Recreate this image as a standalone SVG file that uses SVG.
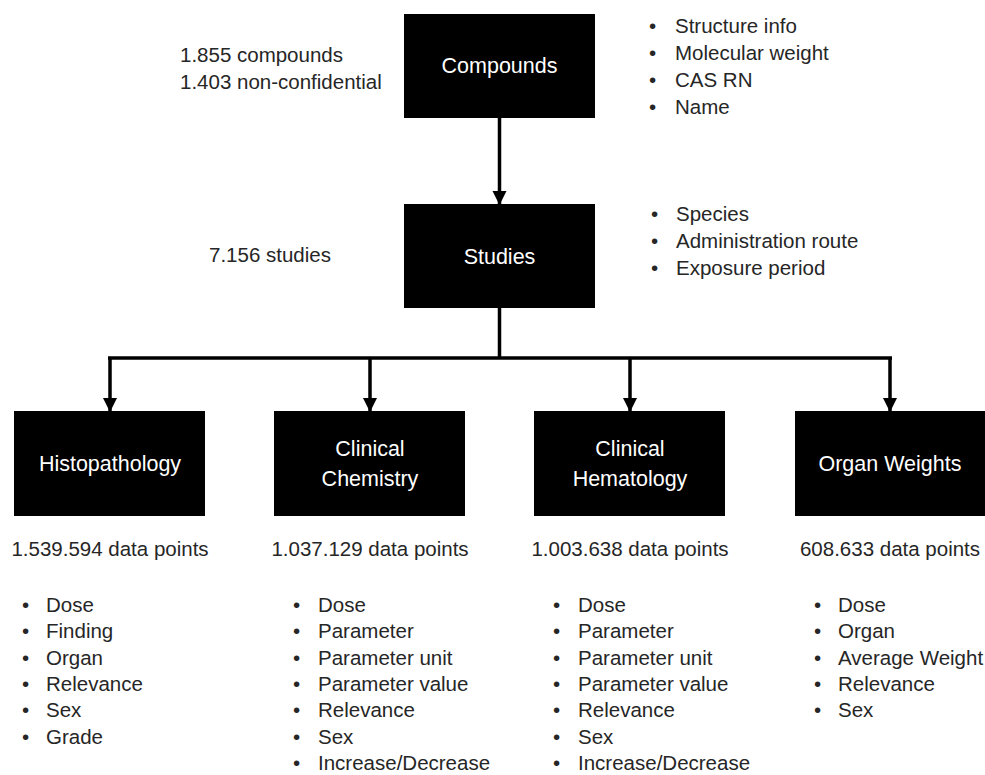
<svg xmlns="http://www.w3.org/2000/svg" width="985" height="775" viewBox="0 0 985 775">
<style>
text{font-family:"Liberation Sans",Arial,sans-serif;font-size:20.5px;fill:#262626}
.box{fill:#000}
.bt{fill:#fff;font-size:21.5px;text-anchor:middle}
.c{text-anchor:middle}
.ln{stroke:#000;stroke-width:3.5;fill:none}
</style>
<defs>
<marker id="ah" markerUnits="userSpaceOnUse" markerWidth="14" markerHeight="16" refX="13" refY="7" orient="auto">
<path d="M0,0 L14,7 L0,14 Z" fill="#000"/>
</marker>
</defs>
<g id="connectors">
<line class="ln" x1="499.5" y1="118" x2="499.5" y2="204" marker-end="url(#ah)"/>
<line class="ln" x1="499.5" y1="308" x2="499.5" y2="358"/>
<line class="ln" x1="108" y1="358" x2="892" y2="358"/>
<line class="ln" x1="110" y1="358" x2="110" y2="411" marker-end="url(#ah)"/>
<line class="ln" x1="370" y1="358" x2="370" y2="411" marker-end="url(#ah)"/>
<line class="ln" x1="630" y1="358" x2="630" y2="411" marker-end="url(#ah)"/>
<line class="ln" x1="890" y1="358" x2="890" y2="411" marker-end="url(#ah)"/>
</g>
<g id="compounds">
<rect class="box" x="404" y="14" width="191" height="104"/>
<text class="bt" x="499.5" y="73">Compounds</text>
<text x="180" y="62">1.855 compounds</text>
<text x="180" y="89">1.403 non-confidential</text>
<text x="649" y="33">•</text><text x="675" y="33">Structure info</text>
<text x="649" y="60">•</text><text x="675" y="60">Molecular weight</text>
<text x="649" y="87">•</text><text x="675" y="87">CAS RN</text>
<text x="649" y="114">•</text><text x="675" y="114">Name</text>
</g>
<g id="studies">
<rect class="box" x="404" y="204" width="191" height="104"/>
<text class="bt" x="499.5" y="264">Studies</text>
<text x="209" y="262">7.156 studies</text>
<text x="651" y="221">•</text><text x="676" y="221">Species</text>
<text x="651" y="248">•</text><text x="676" y="248">Administration route</text>
<text x="651" y="275">•</text><text x="676" y="275">Exposure period</text>
</g>
<g id="histopathology">
<rect class="box" x="14" y="411" width="191" height="105"/>
<text class="bt" x="110" y="471">Histopathology</text>
<text class="c" x="110" y="556">1.539.594 data points</text>
<text x="22" y="612">•</text><text x="46" y="612">Dose</text>
<text x="22" y="638">•</text><text x="46" y="638">Finding</text>
<text x="22" y="665">•</text><text x="46" y="665">Organ</text>
<text x="22" y="691">•</text><text x="46" y="691">Relevance</text>
<text x="22" y="717">•</text><text x="46" y="717">Sex</text>
<text x="22" y="744">•</text><text x="46" y="744">Grade</text>
</g>
<g id="clinical-chemistry">
<rect class="box" x="274" y="411" width="191" height="105"/>
<text class="bt" x="370" y="456">Clinical</text>
<text class="bt" x="370" y="486">Chemistry</text>
<text class="c" x="370" y="556">1.037.129 data points</text>
<text x="293" y="612">•</text><text x="318" y="612">Dose</text>
<text x="293" y="638">•</text><text x="318" y="638">Parameter</text>
<text x="293" y="665">•</text><text x="318" y="665">Parameter unit</text>
<text x="293" y="691">•</text><text x="318" y="691">Parameter value</text>
<text x="293" y="717">•</text><text x="318" y="717">Relevance</text>
<text x="293" y="744">•</text><text x="318" y="744">Sex</text>
<text x="293" y="770">•</text><text x="318" y="770">Increase/Decrease</text>
</g>
<g id="clinical-hematology">
<rect class="box" x="534" y="411" width="191" height="105"/>
<text class="bt" x="630" y="456">Clinical</text>
<text class="bt" x="630" y="486">Hematology</text>
<text class="c" x="630" y="556">1.003.638 data points</text>
<text x="553" y="612">•</text><text x="578" y="612">Dose</text>
<text x="553" y="638">•</text><text x="578" y="638">Parameter</text>
<text x="553" y="665">•</text><text x="578" y="665">Parameter unit</text>
<text x="553" y="691">•</text><text x="578" y="691">Parameter value</text>
<text x="553" y="717">•</text><text x="578" y="717">Relevance</text>
<text x="553" y="744">•</text><text x="578" y="744">Sex</text>
<text x="553" y="770">•</text><text x="578" y="770">Increase/Decrease</text>
</g>
<g id="organ-weights">
<rect class="box" x="795" y="411" width="190" height="105"/>
<text class="bt" x="890" y="471">Organ Weights</text>
<text class="c" x="890" y="556">608.633 data points</text>
<text x="814" y="612">•</text><text x="838" y="612">Dose</text>
<text x="814" y="638">•</text><text x="838" y="638">Organ</text>
<text x="814" y="665">•</text><text x="838" y="665">Average Weight</text>
<text x="814" y="691">•</text><text x="838" y="691">Relevance</text>
<text x="814" y="717">•</text><text x="838" y="717">Sex</text>
</g>
</svg>
